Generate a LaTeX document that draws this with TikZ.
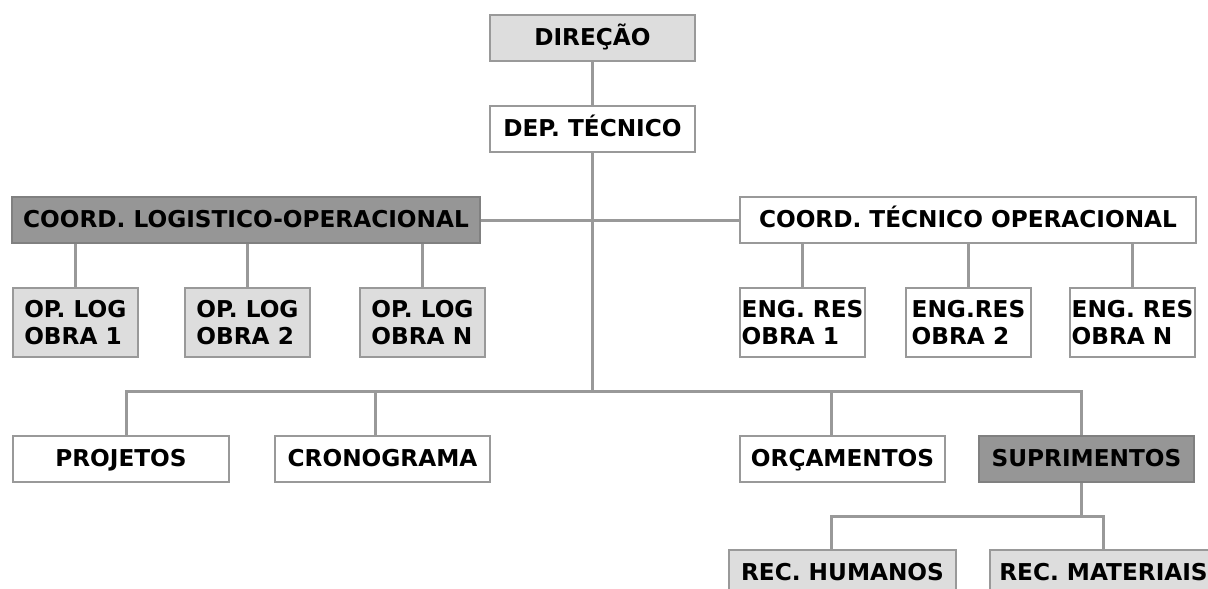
\documentclass[tikz,border=0pt]{standalone}
\usepackage{fontspec}
\setmainfont{DejaVu Sans}
\tikzset{every picture/.style={line width=0.75pt}}
\definecolor{boxline}{RGB}{153,153,153}
\definecolor{lightfill}{RGB}{221,221,221}
\definecolor{darkfill}{RGB}{150,150,150}

\begin{document}
\begin{tikzpicture}[x=0.75pt,y=0.75pt,yscale=-1,xscale=1,
	unit/.style={draw=boxline,line width=1.5pt,inner sep=0pt,minimum height=34.5pt,
		font=\bfseries\fontsize{17.4pt}{20.2pt}\selectfont,align=center},
	oneline/.style={text height=12.7pt,text depth=1.2pt},
	white/.style={unit,fill=white},
	light/.style={unit,fill=lightfill},
	dark/.style={unit,fill=darkfill,draw=darkfill!85!black},
	tall/.style={minimum height=51.75pt,minimum width=93.75pt,align=left},
	link/.style={draw=boxline,line width=2.25pt}]
	\useasboundingbox (0,0) rectangle (1208,589);
	\clip (0,0) rectangle (1208,589);

	%Shape: Rectangle [top]
	\node [light,oneline,minimum width=153.75pt] (dir) at (592.5,37.5) {DIREÇÃO};
	\node [white,oneline,minimum width=153.75pt] (dep) at (592.5,129) {DEP. TÉCNICO};
	%Shape: Rectangle [coordination]
	\node [dark,oneline,minimum width=351pt] (clog) at (246,220) {COORD. LOGISTICO-OPERACIONAL};
	\node [white,oneline,minimum width=342pt] (ctec) at (968,220) {COORD. TÉCNICO OPERACIONAL};
	%Shape: Rectangle [obras]
	\node [light,tall] (op1) at (75.3,322.5) {OP. LOG\\OBRA 1};
	\node [light,tall] (op2) at (247.5,322.5) {OP. LOG\\OBRA 2};
	\node [light,tall] (op3) at (422.5,322.5) {OP. LOG\\OBRA N};
	\node [white,tall] (eng1) at (802.5,322.5) {ENG. RES\\OBRA 1};
	\node [white,tall] (eng2) at (968.5,322.5) {ENG.RES\\OBRA 2};
	\node [white,tall] (eng3) at (1132.5,322.5) {ENG. RES\\OBRA N};
	%Shape: Rectangle [sectors]
	\node [white,oneline,minimum width=162pt] (proj) at (121,459) {PROJETOS};
	\node [white,oneline,minimum width=161.25pt] (crono) at (382.5,459) {CRONOGRAMA};
	\node [white,oneline,minimum width=153.75pt] (orc) at (842.5,459) {ORÇAMENTOS};
	\node [dark,oneline,minimum width=161.25pt] (supr) at (1086.5,459) {SUPRIMENTOS};
	\node [light,oneline,minimum width=170.25pt] (rh) at (842.5,573) {REC. HUMANOS};
	\node [light,oneline,minimum width=170.25pt] (rm) at (1103.5,573) {REC. MATERIAIS};

	%Straight Lines
	\coordinate (bus) at (592.5,391);
	\path ([xshift=-3.4pt]supr.south) ++(0,33) coordinate (fork);
	\draw [link] (dir) -- (dep);
	\draw [link] (dep) -- (bus);
	\draw [link] (clog) -- (ctec);
	\foreach \n in {op1,op2,op3} \draw [link] (clog.south -| \n) -- (\n);
	\foreach \n in {eng1,eng2,eng3} \draw [link] (ctec.south -| \n) -- (\n);
	\draw [link] ([xshift=3.75pt]proj.north) |- (bus) -| ([xshift=-3.4pt]supr.north);
	\draw [link] ([xshift=-4.9pt]crono.north) -- ++(0,-45);
	\draw [link] ([xshift=-8.6pt]orc.north) -- ++(0,-45);
	\draw [link] ([xshift=-3.4pt]supr.south) -- (fork);
	\draw [link] ([xshift=-7.9pt]rh.north) |- (fork) -| (rm);
\end{tikzpicture}
\end{document}
